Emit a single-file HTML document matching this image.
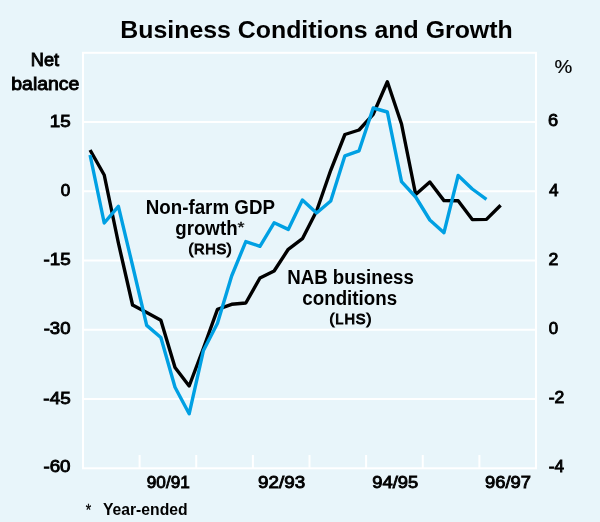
<!DOCTYPE html>
<html><head><meta charset="utf-8"><style>
html,body{margin:0;padding:0;background:#E8F5FA;overflow:hidden;}
svg{display:block;}
text{font-family:"Liberation Sans",sans-serif;fill:#000;}
</style></head><body>
<svg width="600" height="522" viewBox="0 0 600 522">
<rect width="600" height="522" fill="#E8F5FA"/>
<g stroke="#fff" stroke-width="2" fill="none">
<rect x="83" y="52.8" width="453" height="415.50"/>
<line x1="83" x2="536" y1="122.05" y2="122.05"/><line x1="83" x2="536" y1="191.30" y2="191.30"/><line x1="83" x2="536" y1="260.55" y2="260.55"/><line x1="83" x2="536" y1="329.80" y2="329.80"/><line x1="83" x2="536" y1="399.05" y2="399.05"/>
<line x1="139.62" x2="139.62" y1="455" y2="468.3"/><line x1="196.25" x2="196.25" y1="455" y2="468.3"/><line x1="252.88" x2="252.88" y1="455" y2="468.3"/><line x1="309.50" x2="309.50" y1="455" y2="468.3"/><line x1="366.12" x2="366.12" y1="455" y2="468.3"/><line x1="422.75" x2="422.75" y1="455" y2="468.3"/><line x1="479.38" x2="479.38" y1="455" y2="468.3"/>
</g>
<polyline points="90.08,150.0 104.23,175.0 118.39,243.0 132.55,305.0 146.70,312.5 160.86,320.3 175.02,367.5 189.17,386.0 203.33,348.5 217.48,309.3 231.64,304.3 245.80,303.0 259.95,278.0 274.11,271.0 288.27,249.3 302.42,238.7 316.58,211.0 330.73,170.3 344.89,134.5 359.05,130.0 373.20,114.3 387.36,81.8 401.52,124.0 415.67,194.5 429.83,182.0 443.98,200.6 458.14,200.8 472.30,219.6 486.45,219.4 500.61,205.2" fill="none" stroke="#000" stroke-width="3.4" stroke-linejoin="round"/>
<polyline points="90.08,155.0 104.23,223.0 118.39,206.3 132.55,265.5 146.70,325.4 160.86,337.5 175.02,387.2 189.17,413.8 203.33,350.8 217.48,323.3 231.64,276.0 245.80,241.6 259.95,246.3 274.11,222.8 288.27,229.4 302.42,200.0 316.58,213.0 330.73,201.0 344.89,155.8 359.05,150.8 373.20,108.0 387.36,112.0 401.52,181.6 415.67,197.0 429.83,220.0 443.98,232.7 458.14,175.5 472.30,189.0 486.45,199.3" fill="none" stroke="#00A0E3" stroke-width="3.4" stroke-linejoin="round"/>
<g style="will-change:transform">
<text x="120.34" y="37.50" font-size="24.5" font-weight="bold" textLength="392.34" lengthAdjust="spacingAndGlyphs">Business Conditions and Growth</text>
<text x="30.86" y="66.22" font-size="18.9" stroke="#000" stroke-width="0.95" textLength="28.22" lengthAdjust="spacingAndGlyphs">Net</text>
<text x="11.31" y="90.22" font-size="18.9" stroke="#000" stroke-width="0.95" textLength="68.1" lengthAdjust="spacingAndGlyphs">balance</text>
<text x="554.40" y="73.20" font-size="18.4" stroke="#000" stroke-width="0.2" textLength="17.78" lengthAdjust="spacingAndGlyphs">%</text>
<text x="49.69" y="126.55" font-size="17.2" stroke="#000" stroke-width="0.9" textLength="20.9" lengthAdjust="spacingAndGlyphs">15</text>
<text x="60.80" y="195.85" font-size="17.2" stroke="#000" stroke-width="0.9" textLength="9.48" lengthAdjust="spacingAndGlyphs">0</text>
<text x="43.54" y="265.30" font-size="17.2" stroke="#000" stroke-width="0.9" textLength="27.21" lengthAdjust="spacingAndGlyphs">-15</text>
<text x="43.70" y="334.15" font-size="17.2" stroke="#000" stroke-width="0.9" textLength="26.79" lengthAdjust="spacingAndGlyphs">-30</text>
<text x="43.39" y="403.75" font-size="17.2" stroke="#000" stroke-width="0.9" textLength="27.25" lengthAdjust="spacingAndGlyphs">-45</text>
<text x="43.40" y="472.15" font-size="17.2" stroke="#000" stroke-width="0.9" textLength="27.11" lengthAdjust="spacingAndGlyphs">-60</text>
<text x="548.12" y="126.25" font-size="17.2" stroke="#000" stroke-width="0.9" textLength="10.14" lengthAdjust="spacingAndGlyphs">6</text>
<text x="548.95" y="196.25" font-size="17.2" stroke="#000" stroke-width="0.9" textLength="9.52" lengthAdjust="spacingAndGlyphs">4</text>
<text x="548.62" y="264.55" font-size="17.2" stroke="#000" stroke-width="0.9" textLength="9.83" lengthAdjust="spacingAndGlyphs">2</text>
<text x="548.81" y="334.25" font-size="17.2" stroke="#000" stroke-width="0.9" textLength="9.36" lengthAdjust="spacingAndGlyphs">0</text>
<text x="548.73" y="402.85" font-size="17.2" stroke="#000" stroke-width="0.9" textLength="15.66" lengthAdjust="spacingAndGlyphs">-2</text>
<text x="548.74" y="472.25" font-size="17.2" stroke="#000" stroke-width="0.9" textLength="15.3" lengthAdjust="spacingAndGlyphs">-4</text>
<text x="146.80" y="488.35" font-size="17.2" stroke="#000" stroke-width="0.9" textLength="42.96" lengthAdjust="spacingAndGlyphs">90/91</text>
<text x="258.03" y="488.35" font-size="17.2" stroke="#000" stroke-width="0.9" textLength="47.08" lengthAdjust="spacingAndGlyphs">92/93</text>
<text x="372.34" y="488.35" font-size="17.2" stroke="#000" stroke-width="0.9" textLength="45.9" lengthAdjust="spacingAndGlyphs">94/95</text>
<text x="485.04" y="488.35" font-size="17.2" stroke="#000" stroke-width="0.9" textLength="45.92" lengthAdjust="spacingAndGlyphs">96/97</text>
<text x="145.73" y="214.00" font-size="19.6" font-weight="bold" textLength="129.24" lengthAdjust="spacingAndGlyphs">Non-farm GDP</text>
<text x="175.22" y="235.00" font-size="19.6" font-weight="bold" textLength="62.38" lengthAdjust="spacingAndGlyphs">growth</text>
<text x="237.57" y="232.15" font-size="15" stroke="#000" stroke-width="0.3" textLength="7.04" lengthAdjust="spacingAndGlyphs">*</text>
<text x="188.56" y="253.75" font-size="14.6" stroke="#000" stroke-width="1.0" textLength="43.05" lengthAdjust="spacing">(RHS)</text>
<text x="287.23" y="284.10" font-size="19.6" font-weight="bold" textLength="126.57" lengthAdjust="spacingAndGlyphs">NAB business</text>
<text x="302.34" y="304.50" font-size="19.6" font-weight="bold" textLength="94.75" lengthAdjust="spacingAndGlyphs">conditions</text>
<text x="329.56" y="324.10" font-size="14.6" stroke="#000" stroke-width="1.0" textLength="41.8" lengthAdjust="spacing">(LHS)</text>
<text x="85.72" y="516.25" font-size="16" stroke="#000" stroke-width="0.3" textLength="5.43" lengthAdjust="spacingAndGlyphs">*</text>
<text x="102.95" y="514.50" font-size="16.6" font-weight="bold" textLength="84.62" lengthAdjust="spacingAndGlyphs">Year-ended</text>
</g>
</svg>
</body></html>
